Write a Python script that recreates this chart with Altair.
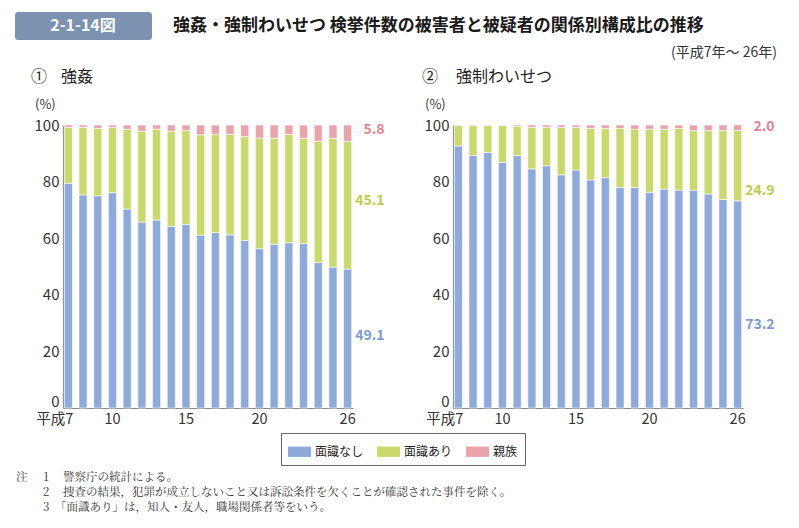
import altair as alt
import pandas as pd

# ---------------- data ----------------
years = list(range(7, 27))  # 平成7年〜26年
cats = ["面識なし", "面識あり", "親族"]
bar_colors = ["#8eaadb", "#c9d96c", "#eaa3ab"]
text_colors = ["#7d9ad0", "#bccd4c", "#e08490"]

# ① 強姦
rape_none = [79.4, 75.3, 75.0, 76.1, 70.3, 65.7, 66.4, 64.2, 64.9, 61.1,
             62.0, 61.2, 59.2, 56.3, 57.9, 58.4, 58.1, 51.4, 49.8, 49.1]
rape_acq = [19.8, 23.9, 23.8, 23.1, 28.2, 32.1, 32.1, 33.6, 33.2, 35.4,
            34.7, 35.5, 36.7, 39.1, 37.4, 38.3, 37.2, 42.9, 45.5, 45.1]
rape_kin = [0.8, 0.8, 1.2, 0.8, 1.5, 2.2, 1.5, 2.2, 1.9, 3.5,
            3.3, 3.3, 4.1, 4.6, 4.7, 3.3, 4.7, 5.7, 4.7, 5.8]

# ② 強制わいせつ
ind_none = [92.6, 89.2, 90.3, 86.8, 89.2, 84.5, 85.6, 82.4, 84.1, 80.6,
            81.4, 77.9, 77.9, 76.2, 77.4, 77.0, 77.0, 75.6, 73.7, 73.2]
ind_acq = [7.2, 10.6, 9.5, 13.0, 10.3, 14.7, 13.6, 16.8, 15.1, 18.2,
           17.4, 20.9, 20.6, 22.3, 21.1, 21.8, 21.0, 22.4, 24.3, 24.9]
ind_kin = [0.2, 0.2, 0.2, 0.2, 0.5, 0.8, 0.8, 0.8, 0.8, 1.2,
           1.2, 1.2, 1.5, 1.5, 1.5, 1.2, 2.0, 2.0, 2.0, 2.0]

rape_last_labels = ["49.1", "45.1", "5.8"]
ind_last_labels = ["73.2", "24.9", "2.0"]
rape_label_at = [25.4, 73.0, 98.2]
ind_label_at = [29.3, 76.7, 99.3]

x_ticks = [7, 10, 15, 20, 26]
y_ticks = [0, 20, 40, 60, 80, 100]

title_text = "強姦・強制わいせつ 検挙件数の被害者と被疑者の関係別構成比の推移"
fig_no = "2-1-14図"
period = "(平成7年～ 26年)"
notes_no = ["1", "2", "3"]
notes = ["警察庁の統計による。",
         "捜査の結果，犯罪が成立しないこと又は訴訟条件を欠くことが確認された事件を除く。",
         "「面識あり」は，知人・友人，職場関係者等をいう。"]

FONT = "Noto Sans CJK JP"
SERIF = "Noto Serif CJK JP, Noto Sans CJK JP"

Y0, Y1 = 408, 125


def panel(none, acq, kin, labels, label_at, x0, x1):
    rows = []
    for i, yr in enumerate(years):
        for k, v in enumerate((none[i], acq[i], kin[i])):
            rows.append({"year": yr, "cat": cats[k], "value": v, "ord": k})
    df = pd.DataFrame(rows)
    xscale = alt.Scale(domain=years, range=[x0, x1], paddingInner=0.45, paddingOuter=0.09)
    yscale = alt.Scale(domain=[0, 100], range=[Y0, Y1], nice=False, zero=True)
    xaxis = alt.Axis(orient="bottom", offset=Y0 - 528, values=x_ticks, title=None,
                     labelExpr="datum.value == 7 ? '平成7' : datum.label",
                     labelAlign={"condition": {"test": "datum.value == 7", "value": "right"}, "value": "center"},
                     labelOffset={"condition": {"test": "datum.value == 7", "value": 5}, "value": 0},
                     labelAngle=0, labelOverlap=False, ticks=False, labelPadding=4,
                     labelFontSize=14.5, labelFont=FONT, labelColor="#333333",
                     domainColor="#8a8a8a", domainWidth=1.2, grid=False)
    yaxis = alt.Axis(orient="left", offset=-x0, values=y_ticks, title=None, ticks=False,
                     labelOffset={"condition": {"test": "datum.value == 0", "value": -7}, "value": 0},
                     labelPadding=4, labelFontSize=15, labelFont=FONT, labelColor="#333333",
                     domainColor="#8a8a8a", domainWidth=1.2, grid=False)
    color = alt.Color("cat:N", scale=alt.Scale(domain=cats, range=bar_colors),
                      legend=alt.Legend(title=None))
    bars = alt.Chart(df).mark_bar(stroke="white", strokeWidth=0.6).encode(
        x=alt.X("year:O", scale=xscale, axis=xaxis),
        y=alt.Y("value:Q", stack="zero", scale=yscale, axis=yaxis),
        color=color,
        order=alt.Order("ord:Q", sort="ascending"),
    )
    ldf = pd.DataFrame({"year": [years[-1]] * 3, "pos": label_at,
                        "text": labels, "col": text_colors})
    lab = alt.Chart(ldf).mark_text(align="right", baseline="middle", dx=37,
                                   fontSize=14, fontWeight="bold", font=FONT).encode(
        x=alt.X("year:O", scale=xscale, axis=xaxis),
        y=alt.Y("pos:Q", scale=yscale, axis=yaxis),
        text="text:N",
        fill=alt.Fill("col:N", scale=None),
    )
    return alt.layer(bars, lab)


left = panel(rape_none, rape_acq, rape_kin, rape_last_labels, rape_label_at, 63, 353)
right = panel(ind_none, ind_acq, ind_kin, ind_last_labels, ind_label_at, 453, 743)

one = alt.Data(values=[{}])


def txt(s, x, y, size=13, align="left", weight="normal", color="#222222", font=FONT):
    return alt.Chart(one).mark_text(text=s, align=align, baseline="middle", fontSize=size,
                                    fontWeight=weight, color=color, font=font).encode(
        x=alt.value(x), y=alt.value(y))


header_box = alt.Chart(one).mark_rect(color="#7b92b1", cornerRadius=3).encode(
    x=alt.value(15), x2=alt.value(152), y=alt.value(12), y2=alt.value(40))

texts = [
    header_box,
    txt(fig_no, 83, 26, size=16, align="center", weight="bold", color="white"),
    txt(title_text, 173, 26, size=17, weight="bold", color="#1a1a1a"),
    txt(period, 777, 53, size=14, align="right", color="#333333"),
    txt("①", 31, 77, size=16),
    txt("強姦", 61, 77, size=16),
    txt("②", 422, 77, size=16),
    txt("強制わいせつ", 456, 77, size=16),
    txt("(%)", 35, 105, size=13, color="#333333"),
    txt("(%)", 425, 105, size=13, color="#333333"),
    txt("注", 16, 478, size=11.5, color="#333333", font=SERIF),
]
for i, (n, s) in enumerate(zip(notes_no, notes)):
    yy = 478 + i * 15
    texts.append(txt(n, 43, yy, size=11.5, color="#333333", font=SERIF))
    texts.append(txt(s, 55 if s.startswith("「") else 63, yy, size=11.5, color="#333333", font=SERIF))

chart = alt.layer(left, right, *texts).resolve_scale(
    x="independent", y="independent"
).resolve_axis(
    x="independent", y="independent"
).properties(
    width=799, height=528, padding=0,
    autosize=alt.AutoSizeParams(type="none"),
).configure_view(stroke=None).configure_legend(
    orient="none", legendX=281, legendY=433, direction="horizontal",
    symbolType="M-1,-0.45L1,-0.45L1,0.45L-1,0.45Z", symbolSize=529, symbolStrokeWidth=0,
    labelFontSize=12, labelFont=FONT, labelColor="#222222", labelOffset=4,
    columnPadding=13, padding=7, strokeColor="#666666", fillColor="white",
    cornerRadius=0,
)

chart.save("out.html", embed_options={"renderer": "svg", "actions": False})
